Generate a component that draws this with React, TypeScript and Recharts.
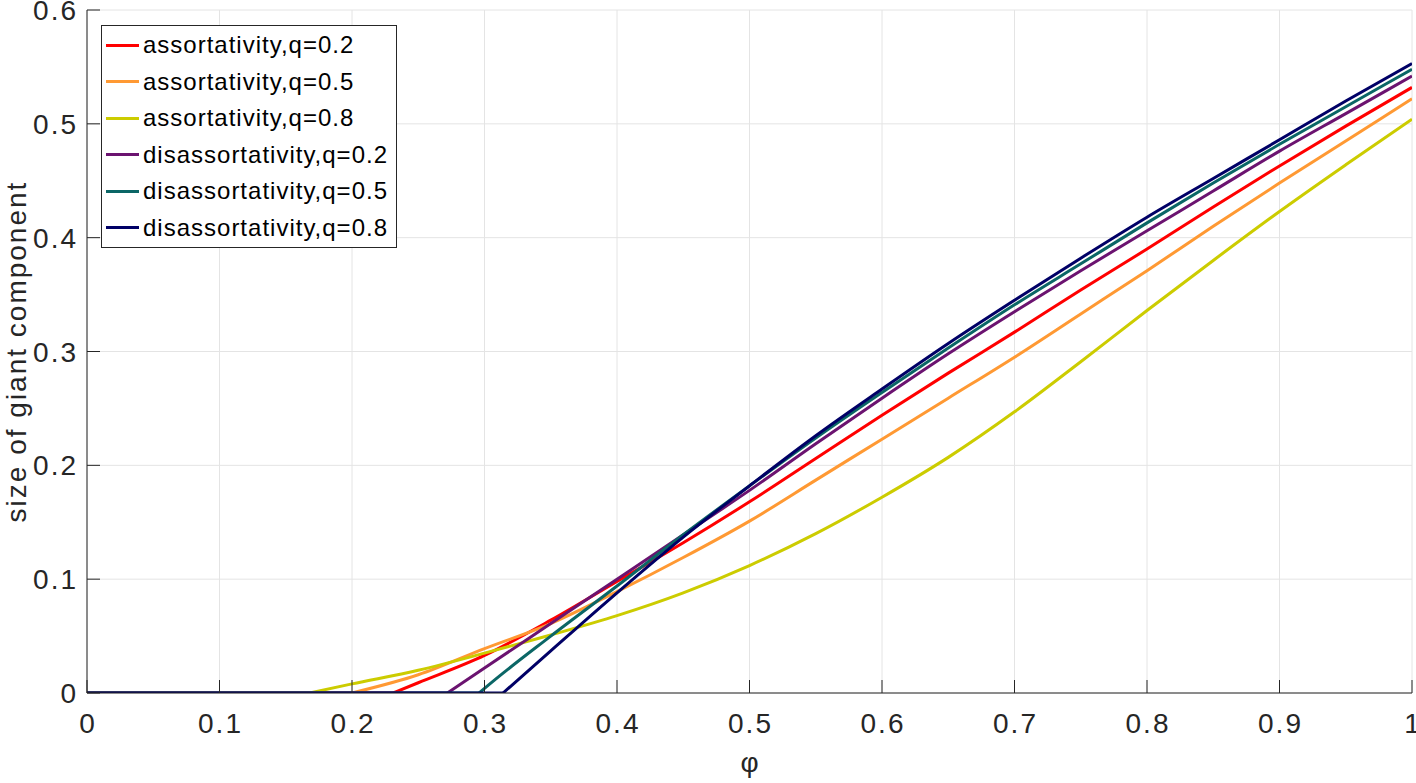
import React from "react"
import { CartesianGrid, Legend, Line, LineChart, XAxis, YAxis } from "recharts"

const FONT = '"Liberation Sans", Arial, Helvetica, sans-serif'
const INK = "#262626"
const TICK_LEN = 13
const X_GAP = 20
const Y_GAP = 11

// size of the giant component against φ as [φ, size]
const assortQ02: [number, number][] = [
  [0, 0], [0.231, 0], [0.25, 0.009], [0.3, 0.033], [0.35, 0.064], [0.4, 0.098],
  [0.45, 0.132], [0.5, 0.168], [0.55, 0.206], [0.6, 0.244], [0.65, 0.281],
  [0.7, 0.317], [0.75, 0.354], [0.8, 0.39], [0.85, 0.427], [0.9, 0.463],
  [0.95, 0.498], [1, 0.532],
]
const assortQ05: [number, number][] = [
  [0, 0], [0.2, 0], [0.25, 0.016], [0.3, 0.039], [0.35, 0.061], [0.4, 0.089],
  [0.45, 0.119], [0.5, 0.151], [0.55, 0.187], [0.6, 0.223], [0.65, 0.259],
  [0.7, 0.295], [0.75, 0.333], [0.8, 0.371], [0.85, 0.41], [0.9, 0.448],
  [0.95, 0.485], [1, 0.522],
]
const assortQ08: [number, number][] = [
  [0, 0], [0.168, 0], [0.2, 0.008], [0.25, 0.02], [0.3, 0.035], [0.35, 0.051],
  [0.4, 0.068], [0.45, 0.088], [0.5, 0.112], [0.55, 0.14], [0.6, 0.172],
  [0.65, 0.207], [0.7, 0.247], [0.75, 0.291], [0.8, 0.336], [0.85, 0.38],
  [0.9, 0.423], [0.95, 0.464], [1, 0.504],
]
const disassortQ02: [number, number][] = [
  [0, 0], [0.272, 0], [0.3, 0.022], [0.35, 0.061], [0.4, 0.1], [0.45, 0.139],
  [0.5, 0.178], [0.55, 0.219], [0.6, 0.259], [0.65, 0.298], [0.7, 0.335],
  [0.75, 0.371], [0.8, 0.406], [0.85, 0.441], [0.9, 0.476], [0.95, 0.509],
  [1, 0.542],
]
const disassortQ05: [number, number][] = [
  [0, 0], [0.296, 0], [0.3, 0.004], [0.35, 0.05], [0.4, 0.094], [0.45, 0.139],
  [0.5, 0.182], [0.55, 0.224], [0.6, 0.264], [0.65, 0.303], [0.7, 0.341],
  [0.75, 0.377], [0.8, 0.413], [0.85, 0.448], [0.9, 0.482], [0.95, 0.515],
  [1, 0.548],
]
const disassortQ08: [number, number][] = [
  [0, 0], [0.314, 0], [0.35, 0.037], [0.4, 0.088], [0.45, 0.137], [0.5, 0.182],
  [0.55, 0.226], [0.6, 0.267], [0.65, 0.307], [0.7, 0.345], [0.75, 0.382],
  [0.8, 0.418], [0.85, 0.452], [0.9, 0.486], [0.95, 0.52], [1, 0.553],
]

const xTicks = [0, 0.1, 0.2, 0.3, 0.4, 0.5, 0.6, 0.7, 0.8, 0.9, 1]
const yTicks = [0, 0.1, 0.2, 0.3, 0.4, 0.5, 0.6]

const series = [
  { name: "assortativity,q=0.2", color: "#ff0000", points: assortQ02 },
  { name: "assortativity,q=0.5", color: "#ff9933", points: assortQ05 },
  { name: "assortativity,q=0.8", color: "#cccc00", points: assortQ08 },
  { name: "disassortativity,q=0.2", color: "#6b1370", points: disassortQ02 },
  { name: "disassortativity,q=0.5", color: "#0b6666", points: disassortQ05 },
  { name: "disassortativity,q=0.8", color: "#000066", points: disassortQ08 },
]
const seriesNames = series.map((s) => s.name)

const toRows = (pts: [number, number][]) => pts.map(([phi, size]) => ({ phi, size }))

// flat part up to the threshold, and the smooth rising part after it
const flatPart = (pts: [number, number][]) => toRows(pts.slice(0, 2))
const risePart = (pts: [number, number][]) => toRows(pts.slice(1))

const labelText = { fontFamily: FONT, fontSize: 28, fill: INK }

// MATLAB style: ticks point into the plot box
const BottomTick = ({ x, y, payload }: any) => (
  <g>
    <line x1={x} x2={x} y1={y - X_GAP} y2={y - X_GAP - TICK_LEN} stroke={INK} />
    <text x={x + 1} y={y} dy="0.7em" textAnchor="middle" letterSpacing={2} {...labelText}>
      {payload.value}
    </text>
  </g>
)

const LeftTick = ({ x, y, payload }: any) => (
  <g>
    <line x1={x + Y_GAP} x2={x + Y_GAP + TICK_LEN} y1={y} y2={y} stroke={INK} />
    <text x={x + 2} y={y} dy="0.36em" textAnchor="end" letterSpacing={2} {...labelText}>
      {payload.value}
    </text>
  </g>
)

const TopTick = ({ x, y }: any) => (
  <line x1={x} x2={x} y1={y} y2={y + TICK_LEN} stroke={INK} />
)

const RightTick = ({ x, y }: any) => (
  <line x1={x - TICK_LEN} x2={x} y1={y} y2={y} stroke={INK} />
)

const LegendBox = ({ payload }: any) => {
  const entries = seriesNames
    .map((name) => payload?.find((e: any) => e.value === name))
    .filter(Boolean)
  return (
    <div
      style={{
        boxSizing: "border-box",
        width: 296,
        border: `1px solid ${INK}`,
        background: "#fff",
        padding: "1px 4px",
        fontFamily: FONT,
        fontSize: 24,
        letterSpacing: 1,
        color: "#000",
        lineHeight: "36.5px",
        whiteSpace: "nowrap",
      }}
    >
      {entries.map((entry: any) => (
        <div key={entry.value} style={{ display: "flex", alignItems: "center" }}>
          <span
            style={{ display: "inline-block", width: 33, borderTop: `3px solid ${entry.color}`, marginRight: 4 }}
          />
          <span>{entry.value}</span>
        </div>
      ))}
    </div>
  )
}

export default function App() {
  return (
    <div style={{ position: "absolute", left: 0, top: 0, background: "#fff" }}>
      <LineChart width={1416} height={783} margin={{ top: 10, right: 4, bottom: 0, left: 0 }}>
        <CartesianGrid stroke="#e4e4e4" />
        <XAxis
          dataKey="phi"
          type="number"
          domain={[0, 1]}
          ticks={xTicks}
          allowDataOverflow
          height={90}
          tickSize={0}
          tickMargin={X_GAP}
          tickLine={false}
          axisLine={{ stroke: INK }}
          tick={BottomTick}
          label={{ value: "φ", position: "insideBottom", offset: 11, style: { ...labelText, textAnchor: "middle" } }}
        />
        <XAxis
          xAxisId="top"
          orientation="top"
          dataKey="phi"
          type="number"
          domain={[0, 1]}
          ticks={xTicks}
          allowDataOverflow
          height={0}
          tickSize={0}
          tickMargin={0}
          tickLine={false}
          axisLine={{ stroke: INK }}
          tick={TopTick}
        />
        <YAxis
          type="number"
          domain={[0, 0.6]}
          ticks={yTicks}
          allowDataOverflow
          width={87}
          tickSize={0}
          tickMargin={Y_GAP}
          tickLine={false}
          axisLine={{ stroke: INK }}
          tick={LeftTick}
          label={{
            value: "size of giant component",
            angle: -90,
            position: "insideLeft",
            offset: 16,
            style: { ...labelText, textAnchor: "middle", letterSpacing: 2 },
          }}
        />
        <YAxis
          yAxisId="right"
          orientation="right"
          type="number"
          domain={[0, 0.6]}
          ticks={yTicks}
          allowDataOverflow
          width={0}
          tickSize={0}
          tickMargin={0}
          tickLine={false}
          axisLine={{ stroke: INK }}
          tick={RightTick}
        />
        <Legend
          layout="vertical"
          align="center"
          verticalAlign="middle"
          wrapperStyle={{ left: 101, top: 25, width: 296 }}
          content={LegendBox}
        />
        {series.flatMap((s) => [
          <Line
            key={s.name + "-flat"}
            data={flatPart(s.points)}
            dataKey="size"
            type="linear"
            stroke={s.color}
            strokeWidth={3}
            dot={false}
            activeDot={false}
            legendType="none"
            isAnimationActive={false}
          />,
          <Line
            key={s.name}
            name={s.name}
            data={risePart(s.points)}
            dataKey="size"
            type="monotone"
            stroke={s.color}
            strokeWidth={3}
            dot={false}
            activeDot={false}
            isAnimationActive={false}
          />,
        ])}
      </LineChart>
    </div>
  )
}
